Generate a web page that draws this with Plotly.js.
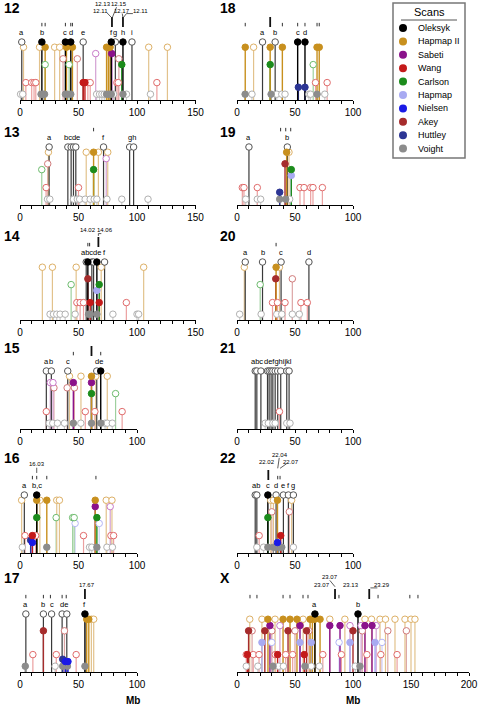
<!DOCTYPE html>
<html><head><meta charset="utf-8">
<script src="https://cdn.plot.ly/plotly-3.0.1.min.js"></script>
<style>html,body{margin:0;padding:0;background:#fff}#chart{width:478px;height:710px}</style>
</head><body><div id="chart"></div><script>
// ---------- scans ----------
const SCAN_NAMES = ['Oleksyk','Hapmap II','Sabeti','Wang','Carlson','Hapmap','Nielsen','Akey','Huttley','Voight'];
const SCAN_CODES = ['O','H2','S','W','C','H','N','A','Hu','V'];
const SCAN_LEVEL = [1.0,0.91,0.8,0.3,0.61,0.51,0.18,0.71,0.22,0.1];

// ---------- data: [scan, Mb, filled] ----------
const chr12_marks = [
 ['O',1.5,0],['O',18.7,1],['O',38.8,1],['O',43.4,1],['O',54,0],['O',78,1],['O',81.5,0],['O',88,1],['O',95.7,0],
 ['H2',3,0],['H2',16.7,0],['H2',21.5,1],['H2',29.6,0],['H2',33.9,0],['H2',39.7,1],['H2',44.8,1],['H2',74,1],['H2',75.5,1],['H2',77,1],['H2',110,0],['H2',126,0],
 ['S',64.7,0],['S',78.4,1],
 ['A',36.8,0],['A',49,0],['A',84.5,0],
 ['C',21.5,0],['C',42,0],['C',87,1],
 ['W',5,0],['W',10,0],['W',12,0],['W',13.5,0],['W',54,1],['W',55.5,1],['W',58,0],['W',60,0],['W',82.8,0],['W',84,0],['W',117,0],
 ['V',0.5,0],['V',2.3,0],['V',18,1],['V',19.5,1],['V',21,1],['V',38.8,1],['V',40.5,1],['V',43.4,1],['V',65.5,0],['V',68,0],['V',70,0],['V',72,0],['V',74,1],['V',76,1],['V',78,1],['V',80,0],['V',88,1],['V',91,0],['V',111.5,0]
];
const chr12_letters = ['a','b','c','d','e','f','g','h','i'];
const chr12_letterMb = [1.5,18.7,38.8,43.4,54,78,81.5,88,95.7];
const chr12_ticks = [18.7,21.5,38.8,43.4,44.8];
const chr12_tall = [78.6,88];
const chr12_callouts = ['12.13','12.15','12.11','12.17','12.11'];
const chr12_calloutMb = [70.9,84.9,69.2,86.9,102.6];
const chr12_calloutLvl = [1.655,1.655,1.53,1.53,1.53];

const chr13_marks = [
 ['O',24.9,0],['O',40.9,0],['O',43.7,0],['O',45.7,0],['O',47.7,0],['O',71.4,0],['O',93.7,0],['O',97.1,0],
 ['H2',24.3,0],['H2',56.6,0],['H2',62.9,1],['H2',67,0],['H2',75,0],
 ['S',73.7,0],['A',23.7,0],
 ['C',18.6,0],['C',62.9,1],
 ['W',22.3,0],['W',50,0],
 ['V',23.5,0],['V',25.5,0],['V',45.7,0],['V',49,0],['V',51,0],['V',55.7,0],['V',60,0],['V',63.4,0],['V',65.7,0],['V',74.3,0],['V',87,0],['V',109.4,0]
];
const chr13_letters = ['a','bcde','f','gh'];
const chr13_letterMb = [24.9,44.3,71.4,95.4];
const chr13_ticks = [62.9];
const chr13_tall = [];

const chr14_marks = [
 ['O',56.6,0],['O',58,1],['O',61.4,0],['O',62.9,0],['O',65.7,1],['O',72.3,0],
 ['H2',19.1,0],['H2',27.7,0],['H2',48,0],['H2',69.4,0],['H2',105.7,0],
 ['A',58,1],
 ['C',43.7,0],['C',67.7,1],
 ['H',65.7,1],
 ['W',48.6,0],['W',51.4,0],['W',54.3,0],['W',60,1],['W',67.7,1],['W',90.9,0],
 ['V',25.7,0],['V',28.6,0],['V',31.4,0],['V',34.3,0],['V',38.6,0],['V',47.1,0],['V',58.6,1],['V',60,1],['V',65.7,1],['V',79.4,0],['V',100,0],['V',101.4,0]
];
const chr14_letters = ['abcde','f'];
const chr14_letterMb = [60.5,72.3];
const chr14_ticks = [58,59.5];
const chr14_tall = [67];
const chr14_callouts = ['14.02','14.06'];
const chr14_calloutMb = [58,73];
const chr14_calloutLvl = [1.55,1.55];

const chr15_marks = [
 ['O',22.5,0],['O',26.8,0],['O',40.8,0],['O',65.6,0],['O',69,1],
 ['H2',42.3,0],['H2',52.1,0],['H2',61.1,1],['H2',64.8,0],['H2',74.6,0],
 ['S',25.9,0],['S',28.2,0],['S',45.6,1],['S',61.1,1],
 ['A',29,0],['A',40.3,0],['A',46.5,0],
 ['C',61.1,1],['C',81.7,0],
 ['W',22.5,0],['W',55.8,0],['W',64,0],['W',87.3,0],
 ['V',25,0],['V',28,0],['V',32,0],['V',38,0],['V',45.6,1],['V',52,0],['V',61.1,1],['V',69,1],['V',72.7,0],['V',74.6,0],['V',78.9,0]
];
const chr15_letters = ['a','b','c','de'];
const chr15_letterMb = [22.5,26.8,40.8,67.3];
const chr15_ticks = [45.6,69];
const chr15_tall = [61.1];

const chr16_marks = [
 ['O',3.7,0],['O',14.3,1],
 ['H2',1.4,0],['H2',14.3,1],['H2',17,0],['H2',22.9,1],['H2',31.4,0],['H2',33.7,0],['H2',64.3,1],['H2',73.7,0],['H2',78.6,0],
 ['S',64.3,1],['S',77.1,0],
 ['C',14.3,1],['C',30.9,0],['C',45,0],['C',46.3,0],['C',65.7,1],
 ['H',47.1,0],['H',67.7,0],
 ['W',4.3,0],['W',10.6,1],['W',13.4,0],['W',54.3,0],['W',77.7,0],['W',80,0],
 ['N',10.6,1],['Hu',9.1,1],
 ['V',2,0],['V',22.9,1],['V',59.4,0],['V',61.4,0],['V',65.7,1],['V',74.3,0],['V',79,0]
];
const chr16_letters = ['a','b,c'];
const chr16_letterMb = [3.7,14.3];
const chr16_ticks = [10.6,14.3,22.9,64.9];
const chr16_tall = [];
const chr16_callouts = ['16.03'];
const chr16_calloutMb = [14.3];
const chr16_calloutLvl = [1.53];

const chr17_marks = [
 ['O',5,0],['O',20,0],['O',27,0],['O',36,0],['O',40,0],['O',55.5,1],
 ['H2',57,1],['H2',58.8,1],['H2',61,0],['H2',63,0],
 ['A',20,1],['A',38,0],
 ['W',11,0],['W',31,0],['W',48,0],
 ['Hu',36.5,1],['N',38.8,1],['N',41,1],
 ['V',4.5,1],['V',30,0],['V',36.5,1],['V',40.5,1],['V',55.5,1]
];
const chr17_letters = ['a','b','c','de','f'];
const chr17_letterMb = [5,20,27,38,55.5];
const chr17_ticks = [5,20,26,36,39.5];
const chr17_tall = [55.5];
const chr17_callouts = ['17.67'];
const chr17_calloutMb = [57.5];
const chr17_calloutLvl = [1.5];

const chr18_marks = [
 ['O',22,0],['O',32.9,0],['O',52.3,1],['O',58.6,1],
 ['H2',7.1,1],['H2',14.3,0],['H2',28.6,1],['H2',39.1,1],['H2',69,1],['H2',70.9,1],
 ['C',28.6,1],['C',65.7,0],
 ['W',67.7,0],['W',77.7,0],
 ['Hu',52.9,1],['Hu',58.6,1],
 ['V',7,1],['V',12.9,0],['V',29.4,1],['V',34.3,0],['V',38.6,0],['V',41.4,0],['V',62,0],['V',63.4,0],['V',69,1],['V',75.7,0]
];
const chr18_letters = ['a','b','c','d'];
const chr18_letterMb = [22,32.9,52.3,58.6];
const chr18_ticks = [7.1,39.1,52.3,58.6,69,70.9];
const chr18_tall = [28.6];

const chr19_marks = [
 ['O',10.3,0],['O',43.4,0],
 ['H2',42.8,1],['H2',44.8,0],
 ['A',41.4,1],['C',46.8,1],['H',46.8,1],
 ['W',4.6,0],['W',6,0],['W',17.5,0],['W',54.3,0],['W',57.8,0],['W',63.5,0],['W',65.5,0],['W',73.6,0],
 ['Hu',36.8,1],
 ['V',7.5,0],['V',17.5,0],['V',20.4,0],['V',36.8,1],['V',42,1],['V',45.4,0]
];
const chr19_letters = ['a','b'];
const chr19_letterMb = [10.3,43.4];
const chr19_ticks = [37.6,42,46.3];
const chr19_tall = [];

const chr20_marks = [
 ['O',7.1,0],['O',22,0],['O',38,0],['O',62,0],
 ['H2',6.3,0],['H2',33.7,1],['H2',36.6,0],
 ['A',33.4,1],['A',47.7,0],
 ['C',20,0],
 ['W',30.6,0],['W',34.9,0],['W',41.4,0],['W',55.1,0],['W',60.6,0],
 ['V',2.3,0],['V',20.8,0],['V',34.3,0],['V',38.6,0],['V',47.7,0],['V',53.7,0]
];
const chr20_letters = ['a','b','c','d'];
const chr20_letterMb = [7.1,22,38,62];
const chr20_ticks = [33.7];
const chr20_tall = [];

const chr21_marks = [
 ['O',15.7,0],['O',17.1,0],['O',20.6,0],['O',26.3,0],['O',27.7,0],['O',29.4,0],['O',30.9,0],['O',32.9,0],['O',35.1,0],['O',37.7,0],['O',42.9,0],['O',44.9,0],
 ['W',36.6,0],
 ['V',24.3,0],['V',27,0],['V',30.9,0],['V',32.9,0],['V',42.9,0],['V',45.7,0]
];
const chr21_letters = ['abc','defghij','kl'];
const chr21_letterMb = [17.0,32.4,45.0];
const chr21_ticks = [];
const chr21_tall = [];

const chr22_marks = [
 ['O',15.7,0],['O',17.1,0],['O',26.6,1],['O',33.7,0],['O',40,0],['O',44.3,0],['O',48.6,0],
 ['H2',29.1,0],['H2',31.4,0],['H2',34.9,1],['H2',47.1,0],
 ['A',30,0],['A',45.1,0],
 ['C',26.6,1],
 ['W',19.1,0],['W',37.7,1],
 ['N',34.9,1],
 ['V',17.1,0],['V',22.9,0],['V',26.6,1],['V',31.4,1],['V',33.7,1],['V',36,1],['V',38.6,1],['V',48.6,0]
];
const chr22_letters = ['ab','c','d','e','f','g'];
const chr22_letterMb = [16.4,26.6,33.7,40,44.3,48.6];
const chr22_ticks = [35.1,37.1];
const chr22_tall = [27];
const chr22_callouts = ['22.02','22.04','22.07'];
const chr22_calloutMb = [25.9,37,46.5];
const chr22_calloutLvl = [1.57,1.69,1.57];

const chrX_marks = [
 ['O',67.2,1],['O',104.3,1],
 ['H2',26.7,1],['H2',39.7,1],['H2',45.7,1],['H2',51.7,1],['H2',63,1],['H2',65,1],['H2',67,1],['H2',71.6,1],
 ['H2',11,0],['H2',21.5,0],['H2',32.8,0],['H2',57,0],['H2',80,0],['H2',93,0],['H2',110.3,0],['H2',116,0],['H2',123.3,0],['H2',128,0],['H2',136.2,0],['H2',144.8,0],['H2',150,0],['H2',153.4,0],
 ['S',28.4,1],['S',54.3,1],['S',80,1],['S',88.8,1],['S',110.3,1],['S',116.4,1],['S',37,0],['S',97.4,0],['S',107,0],['S',120,0],
 ['A',10,1],['A',24,1],['A',44,1],['A',60,1],['A',100,1],['A',13,0],['A',30,0],['A',50,0],['A',62,0],['A',108,0],['A',130,0],['A',146,0],
 ['W',9,1],['W',35,1],['W',58,1],['W',8,0],['W',14,0],['W',19,0],['W',33,0],['W',42,0],['W',48,0],['W',74,0],['W',90,0],['W',112,0],['W',124,0],['W',138,0],
 ['H',21.5,1],['H',54.3,1],['H',64,1],['H',97.4,1],['H',119,1],['H',30,0],['H',88,0],['H',125,0],
 ['V',31,1],['V',58.6,1],['V',106,1],['V',8,0],['V',18,0],['V',36,0],['V',40,0],['V',64,0],['V',71,0],['V',102,0]
];
const chrX_letters = ['a','b'];
const chrX_letterMb = [67.2,104.3];
const chrX_ticks = [11.2,17.2,39.7,45.7,56.9,61.2,87.9,121.6,149,156];
const chrX_tall = [84.5,114];
const chrX_callouts = ['23.07','23.07','23.13','23.29'];
const chrX_calloutMb = [80,73,98,125];
const chrX_calloutLvl = [1.63,1.5,1.5,1.5];

// ---------- styling / layout ----------
const SCAN_COLOR = ['#000000','#C8901E','#8B128B','#C41A1A','#1C8C1C','#A8AAF2','#1A1AE6','#A62C2C','#2C3594','#8C8C8C'];
const OPEN_EDGE  = ['#555555','#DDB066','#C87AC8','#E06A6A','#6CBB6C','#B4B6F5','#7070F0','#D07A7A','#7A80C0','#B0B0B0'];
const OPEN_STEM  = ['#3A3A3A','#E2C28C','#D3A0D3','#EBA0A0','#9ED09E','#CFD0F8','#A0A0F5','#DCA5A5','#A5A9D6','#C8C8C8'];
const DRAW_ORDER = ['V','Hu','N','W','H','C','A','S','H2','O'];

const W = 478, H = 710;
const COL_X0 = [20, 237], COL_SCALE = [1.17, 1.16];
const AXIS_Y = [100, 205, 320, 429, 553, 672];
const TITLE_Y = [8, 132, 236, 348, 458, 578];
const TITLE_X = [2, 218];
const UNIT = 58, YTOP = 1.72;
const FONT = 'Liberation Sans, Arial, Helvetica, sans-serif';

const panels = [
 {t:'12',col:0,row:0,range:150,m:chr12_marks,L:chr12_letters,Lm:chr12_letterMb,tk:chr12_ticks,tl:chr12_tall,co:chr12_callouts,cm:chr12_calloutMb,cl:chr12_calloutLvl,
  lead:[[[74.5,1.50],[78.3,1.42]],[[82.5,1.60],[78.9,1.42]],[[87.4,1.49],[88,1.42]],[[96.5,1.49],[91,1.49],[88.3,1.42]]]},
 {t:'13',col:0,row:1,range:150,m:chr13_marks,L:chr13_letters,Lm:chr13_letterMb,tk:chr13_ticks,tl:chr13_tall},
 {t:'14',col:0,row:2,range:150,m:chr14_marks,L:chr14_letters,Lm:chr14_letterMb,tk:chr14_ticks,tl:chr14_tall,co:chr14_callouts,cm:chr14_calloutMb,cl:chr14_calloutLvl,
  lead:[[[69.5,1.49],[67,1.49],[67,1.45]]]},
 {t:'15',col:0,row:3,range:100,m:chr15_marks,L:chr15_letters,Lm:chr15_letterMb,tk:chr15_ticks,tl:chr15_tall},
 {t:'16',col:0,row:4,range:100,m:chr16_marks,L:chr16_letters,Lm:chr16_letterMb,tk:chr16_ticks,tl:chr16_tall,co:chr16_callouts,cm:chr16_calloutMb,cl:chr16_calloutLvl,
  lead:[[[14.3,1.47],[14.3,1.38]]]},
 {t:'17',col:0,row:5,range:100,m:chr17_marks,L:chr17_letters,Lm:chr17_letterMb,tk:chr17_ticks,tl:chr17_tall,co:chr17_callouts,cm:chr17_calloutMb,cl:chr17_calloutLvl},
 {t:'18',col:1,row:0,range:100,m:chr18_marks,L:chr18_letters,Lm:chr18_letterMb,tk:chr18_ticks,tl:chr18_tall},
 {t:'19',col:1,row:1,range:100,m:chr19_marks,L:chr19_letters,Lm:chr19_letterMb,tk:chr19_ticks,tl:chr19_tall},
 {t:'20',col:1,row:2,range:100,m:chr20_marks,L:chr20_letters,Lm:chr20_letterMb,tk:chr20_ticks,tl:chr20_tall},
 {t:'21',col:1,row:3,range:100,m:chr21_marks,L:chr21_letters,Lm:chr21_letterMb,tk:chr21_ticks,tl:chr21_tall},
 {t:'22',col:1,row:4,range:100,m:chr22_marks,L:chr22_letters,Lm:chr22_letterMb,tk:chr22_ticks,tl:chr22_tall,co:chr22_callouts,cm:chr22_calloutMb,cl:chr22_calloutLvl,
  lead:[[[36.4,1.64],[35.1,1.46]],[[42.8,1.54],[37.1,1.46]]]},
 {t:'X',col:1,row:5,range:200,m:chrX_marks,L:chrX_letters,Lm:chrX_letterMb,tk:chrX_ticks,tl:chrX_tall,co:chrX_callouts,cm:chrX_calloutMb,cl:chrX_calloutLvl,
  lead:[[[80,1.58],[84.5,1.47]],[[121,1.45],[115,1.45]]]}
];

const traces = [], annotations = [], shapes = [];
const layout = {
  width: W, height: H, margin:{l:0,r:0,t:0,b:0},
  paper_bgcolor:'#fff', plot_bgcolor:'rgba(0,0,0,0)', showlegend:false,
  font:{family:FONT, color:'#000', size:10}
};

panels.forEach((p,i) => {
  const k = i + 1;
  const xr = k===1 ? 'x' : 'x'+k, yr = k===1 ? 'y' : 'y'+k;
  const xa = k===1 ? 'xaxis' : 'xaxis'+k, ya = k===1 ? 'yaxis' : 'yaxis'+k;
  const x0 = COL_X0[p.col], sc = COL_SCALE[p.col], ay = AXIS_Y[p.row];
  const tv = [], tt = [];
  for (let v = 0; v <= p.range; v += 10) { tv.push(v); tt.push(v % 50 === 0 ? String(v) : ''); }
  layout[xa] = {domain:[x0/W, (x0 + p.range*sc)/W], range:[0,p.range], anchor:yr, showgrid:false, zeroline:false,
    showline:true, linecolor:'#000', linewidth:1, ticks:'outside', ticklen:3, tickwidth:1, tickcolor:'#000',
    tickmode:'array', tickvals:tv, ticktext:tt, tickfont:{size:10, family:FONT}, fixedrange:true};
  layout[ya] = {domain:[1 - ay/H, 1 - (ay - YTOP*UNIT)/H], range:[0,YTOP], anchor:xr, visible:false, fixedrange:true};

  // stems
  [0,1].forEach(f => {
    DRAW_ORDER.forEach(code => {
      const si = SCAN_CODES.indexOf(code);
      const pts = p.m.filter(d => d[0]===code && d[2]===f);
      if (!pts.length) return;
      const xs = [], ys = [];
      pts.forEach(d => { xs.push(d[1], d[1], null); ys.push(0, SCAN_LEVEL[si], null); });
      traces.push({type:'scatter', mode:'lines', x:xs, y:ys, xaxis:xr, yaxis:yr, hoverinfo:'skip',
        line:{color: f ? SCAN_COLOR[si] : OPEN_STEM[si], width: f ? 1.4 : 1.2}});
    });
  });
  // markers
  const mx = [], my = [], mc = [], ml = [];
  [0,1].forEach(f => {
    DRAW_ORDER.forEach(code => {
      const si = SCAN_CODES.indexOf(code);
      p.m.filter(d => d[0]===code && d[2]===f).forEach(d => {
        mx.push(d[1]); my.push(SCAN_LEVEL[si]);
        mc.push(f ? SCAN_COLOR[si] : '#ffffff');
        ml.push(f ? SCAN_COLOR[si] : OPEN_EDGE[si]);
      });
    });
  });
  traces.push({type:'scatter', mode:'markers', x:mx, y:my, xaxis:xr, yaxis:yr, cliponaxis:false, hoverinfo:'skip',
    marker:{size:6.5, color:mc, line:{color:ml, width:1}}});

  // small ticks and tall ticks
  const tx = [], ty = [];
  (p.tk||[]).forEach(v => { tx.push(v, v, null); ty.push(1.27, 1.33, null); });
  if (tx.length) traces.push({type:'scatter', mode:'lines', x:tx, y:ty, xaxis:xr, yaxis:yr, hoverinfo:'skip', line:{color:'#333', width:1}});
  const gx = [], gy = [];
  (p.tl||[]).forEach(v => { gx.push(v, v, null); gy.push(1.26, 1.43, null); });
  if (gx.length) traces.push({type:'scatter', mode:'lines', x:gx, y:gy, xaxis:xr, yaxis:yr, hoverinfo:'skip', line:{color:'#111', width:1.8}});
  // leaders
  const lx = [], ly = [];
  (p.lead||[]).forEach(poly => { poly.forEach(q => { lx.push(q[0]); ly.push(q[1]); }); lx.push(null); ly.push(null); });
  if (lx.length) traces.push({type:'scatter', mode:'lines', x:lx, y:ly, xaxis:xr, yaxis:yr, hoverinfo:'skip', line:{color:'#333', width:0.8}});

  // letters
  p.L.forEach((s,j) => annotations.push({xref:xr, yref:yr, x:p.Lm[j], y:1.16, text:s, showarrow:false,
    font:{size:7.5, family:FONT, color:'#000'}, xanchor:'center', yanchor:'middle'}));
  // callouts
  (p.co||[]).forEach((s,j) => annotations.push({xref:xr, yref:yr, x:p.cm[j], y:p.cl[j], text:s, showarrow:false,
    font:{size:6, family:FONT, color:'#000'}, xanchor:'center', yanchor:'middle'}));
  // title
  annotations.push({xref:'paper', yref:'paper', x:TITLE_X[p.col]/W, y:1 - TITLE_Y[p.row]/H, text:'<b>'+p.t+'</b>',
    showarrow:false, xanchor:'left', yanchor:'middle', font:{size:14, family:FONT, color:'#000'}});
});

// axis unit labels
[[133,700],[353,700]].forEach(q => annotations.push({xref:'paper', yref:'paper', x:q[0]/W, y:1 - q[1]/H, text:'<b>Mb</b>',
  showarrow:false, xanchor:'center', yanchor:'middle', font:{size:10, family:FONT}}));

// legend
layout.xaxis13 = {domain:[389/W, 469/W], range:[389,469], anchor:'y13', visible:false, fixedrange:true};
layout.yaxis13 = {domain:[1 - 161/H, 1], range:[161,0], anchor:'x13', visible:false, fixedrange:true};
shapes.push({type:'rect', xref:'x13', yref:'y13', x0:393, x1:465, y0:3, y1:158, line:{color:'#777', width:1.5}, fillcolor:'rgba(0,0,0,0)'});
shapes.push({type:'line', xref:'x13', yref:'y13', x0:401, x1:457, y0:20, y1:20, line:{color:'#555', width:1}});
annotations.push({xref:'x13', yref:'y13', x:429, y:11.5, text:'Scans', showarrow:false, xanchor:'center', yanchor:'middle', font:{size:11, family:FONT}});
const legY = SCAN_NAMES.map((_,i) => 28 + i*13.4);
traces.push({type:'scatter', mode:'markers', xaxis:'x13', yaxis:'y13', x:SCAN_NAMES.map(() => 403), y:legY, cliponaxis:false, hoverinfo:'skip',
  marker:{size:8, color:SCAN_COLOR, line:{width:0}}});
SCAN_NAMES.forEach((n,i) => annotations.push({xref:'x13', yref:'y13', x:416, y:legY[i], text:n, showarrow:false,
  xanchor:'left', yanchor:'middle', font:{size:9, family:FONT, color:'#000'}}));

layout.annotations = annotations;
layout.shapes = shapes;
Plotly.newPlot('chart', traces, layout, {displayModeBar:false, staticPlot:true});
</script></body></html>
